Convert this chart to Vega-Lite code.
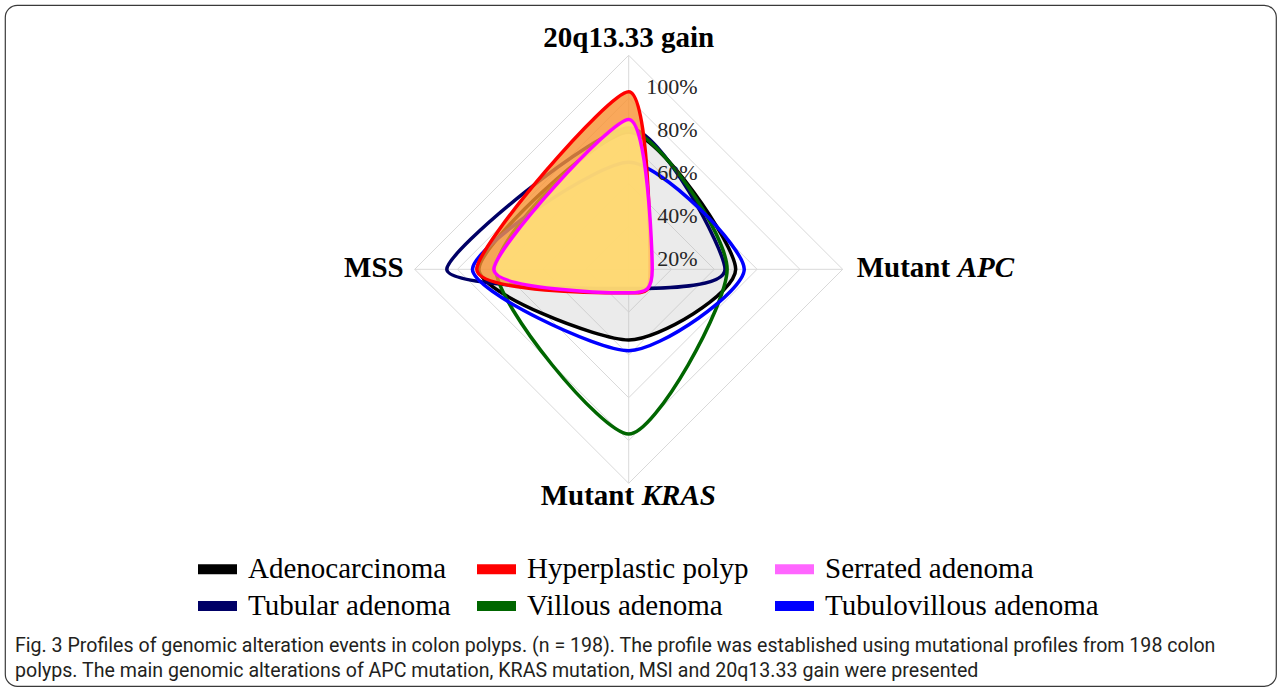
{
  "$schema": "https://vega.github.io/schema/vega-lite/v6.json",
  "width": 1281,
  "height": 689,
  "autosize": {"type": "fit", "contains": "padding"},
  "padding": {"left": 5, "right": 5, "top": 5, "bottom": 3},
  "background": "white",
  "config": {"view": {"stroke": "#3a3a3a", "strokeWidth": 1.2, "cornerRadius": 12}},
  "title": {
    "text": [
      "Fig. 3 Profiles of genomic alteration events in colon polyps. (n = 198). The profile was established using mutational profiles from 198 colon",
      "polyps. The main genomic alterations of APC mutation, KRAS mutation, MSI and 20q13.33 gain were presented"
    ],
    "orient": "bottom",
    "anchor": "start",
    "frame": "group",
    "offset": -49,
    "dx": 10,
    "font": "Roboto",
    "fontSize": 19.6,
    "fontWeight": "normal",
    "color": "#231F20",
    "lineHeight": 25
  },
  "datasets": {
    "series": [
      {"type": "Adenocarcinoma", "axis": "20q13.33 gain", "value": 64},
      {"type": "Adenocarcinoma", "axis": "Mutant APC", "value": 50},
      {"type": "Adenocarcinoma", "axis": "Mutant KRAS", "value": 33},
      {"type": "Adenocarcinoma", "axis": "MSS", "value": 70},
      {"type": "Hyperplastic polyp", "axis": "20q13.33 gain", "value": 83},
      {"type": "Hyperplastic polyp", "axis": "Mutant APC", "value": 10},
      {"type": "Hyperplastic polyp", "axis": "Mutant KRAS", "value": 11},
      {"type": "Hyperplastic polyp", "axis": "MSS", "value": 71},
      {"type": "Serrated adenoma", "axis": "20q13.33 gain", "value": 70},
      {"type": "Serrated adenoma", "axis": "Mutant APC", "value": 11},
      {"type": "Serrated adenoma", "axis": "Mutant KRAS", "value": 11},
      {"type": "Serrated adenoma", "axis": "MSS", "value": 63},
      {"type": "Tubular adenoma", "axis": "20q13.33 gain", "value": 66},
      {"type": "Tubular adenoma", "axis": "Mutant APC", "value": 45},
      {"type": "Tubular adenoma", "axis": "Mutant KRAS", "value": 9},
      {"type": "Tubular adenoma", "axis": "MSS", "value": 85},
      {"type": "Villous adenoma", "axis": "20q13.33 gain", "value": 65},
      {"type": "Villous adenoma", "axis": "Mutant APC", "value": 46},
      {"type": "Villous adenoma", "axis": "Mutant KRAS", "value": 77},
      {"type": "Villous adenoma", "axis": "MSS", "value": 62},
      {"type": "Tubulovillous adenoma", "axis": "20q13.33 gain", "value": 50},
      {"type": "Tubulovillous adenoma", "axis": "Mutant APC", "value": 54},
      {"type": "Tubulovillous adenoma", "axis": "Mutant KRAS", "value": 38},
      {"type": "Tubulovillous adenoma", "axis": "MSS", "value": 73}
    ],
    "axes": [
      {"axis": "20q13.33 gain", "k": 0},
      {"axis": "Mutant APC", "k": 1},
      {"axis": "Mutant KRAS", "k": 2},
      {"axis": "MSS", "k": 3}
    ],
    "grid": [
      {"level": 20, "k": 0}, {"level": 20, "k": 1}, {"level": 20, "k": 2}, {"level": 20, "k": 3},
      {"level": 40, "k": 0}, {"level": 40, "k": 1}, {"level": 40, "k": 2}, {"level": 40, "k": 3},
      {"level": 60, "k": 0}, {"level": 60, "k": 1}, {"level": 60, "k": 2}, {"level": 60, "k": 3},
      {"level": 80, "k": 0}, {"level": 80, "k": 1}, {"level": 80, "k": 2}, {"level": 80, "k": 3},
      {"level": 100, "k": 0}, {"level": 100, "k": 1}, {"level": 100, "k": 2}, {"level": 100, "k": 3}
    ],
    "ticks": [
      {"level": 20}, {"level": 40}, {"level": 60}, {"level": 80}, {"level": 100}
    ]
  },
  "encoding": {
    "x": {"field": "px", "type": "quantitative", "scale": {"domain": [-291.45, 302.48], "nice": false, "zero": false}, "axis": null},
    "y": {"field": "py", "type": "quantitative", "scale": {"domain": [-194.7, 123.5], "nice": false, "zero": false}, "axis": null}
  },
  "layer": [
    {
      "data": {"name": "grid"},
      "transform": [
        {"calculate": "datum.level * sin(datum.k * PI / 2)", "as": "px"},
        {"calculate": "datum.level * cos(datum.k * PI / 2)", "as": "py"}
      ],
      "mark": {"type": "line", "interpolate": "linear-closed", "stroke": "#D9D9D9", "strokeWidth": 1},
      "encoding": {
        "detail": {"field": "level", "type": "nominal"},
        "order": {"field": "k", "type": "quantitative"}
      }
    },
    {
      "data": {"name": "axes"},
      "transform": [
        {"calculate": "0", "as": "px"},
        {"calculate": "0", "as": "py"},
        {"calculate": "100 * sin(datum.k * PI / 2)", "as": "px2"},
        {"calculate": "100 * cos(datum.k * PI / 2)", "as": "py2"}
      ],
      "mark": {"type": "rule", "stroke": "#D9D9D9", "strokeWidth": 1},
      "encoding": {
        "x2": {"field": "px2"},
        "y2": {"field": "py2"}
      }
    },
    {
      "data": {"name": "series"},
      "transform": [
        {"filter": "datum.type === 'Adenocarcinoma'"},
        {"calculate": "indexof(['20q13.33 gain','Mutant APC','Mutant KRAS','MSS'], datum.axis)", "as": "k"},
        {"calculate": "datum.value * sin(datum.k * PI / 2)", "as": "px"},
        {"calculate": "datum.value * cos(datum.k * PI / 2)", "as": "py"}
      ],
      "mark": {"type": "line", "interpolate": "cardinal-closed", "tension": 0.3, "fill": "#BDBDBD", "fillOpacity": 0.3, "strokeOpacity": 0},
      "encoding": {
        "order": {"field": "k", "type": "quantitative"}
      }
    },
    {
      "data": {"name": "series"},
      "transform": [
        {"filter": "datum.type !== 'Hyperplastic polyp' && datum.type !== 'Serrated adenoma'"},
        {"calculate": "indexof(['20q13.33 gain','Mutant APC','Mutant KRAS','MSS'], datum.axis)", "as": "k"},
        {"calculate": "datum.value * sin(datum.k * PI / 2)", "as": "px"},
        {"calculate": "datum.value * cos(datum.k * PI / 2)", "as": "py"}
      ],
      "mark": {"type": "line", "interpolate": "cardinal-closed", "tension": 0.3, "strokeWidth": 3.5},
      "encoding": {
        "color": {
          "field": "type",
          "type": "nominal",
          "scale": {
            "domain": ["Adenocarcinoma", "Hyperplastic polyp", "Serrated adenoma", "Tubular adenoma", "Villous adenoma", "Tubulovillous adenoma"],
            "range": ["#000000", "#FF0000", "#FF00FF", "#000066", "#006600", "#0000FF"]
          },
          "legend": {
            "title": null,
            "orient": "none",
            "direction": "horizontal",
            "legendX": 193,
            "legendY": 544.5,
            "columns": 3,
            "columnPadding": 26,
            "rowPadding": 2,
            "padding": 0,
            "symbolSize": 1521,
            "symbolType": "M-1,-0.26H1V0.26H-1Z",
            "labelFont": "Liberation Serif",
            "labelFontSize": 29,
            "labelColor": "#000000",
            "labelOffset": 11,
            "labelLimit": 400,
            "encode": {
              "symbols": {
                "update": {
                  "fill": {"signal": "datum.value === 'Serrated adenoma' ? '#FF66FF' : scale('color', datum.value)"},
                  "stroke": {"value": "transparent"},
                  "strokeWidth": {"value": 0},
                  "opacity": {"value": 1}
                }
              }
            }
          }
        },
        "order": {"field": "k", "type": "quantitative"}
      }
    },
    {
      "data": {"name": "series"},
      "transform": [
        {"filter": "datum.type === 'Hyperplastic polyp'"},
        {"calculate": "indexof(['20q13.33 gain','Mutant APC','Mutant KRAS','MSS'], datum.axis)", "as": "k"},
        {"calculate": "datum.value * sin(datum.k * PI / 2)", "as": "px"},
        {"calculate": "datum.value * cos(datum.k * PI / 2)", "as": "py"}
      ],
      "mark": {"type": "line", "interpolate": "cardinal-closed", "tension": 0.3, "strokeWidth": 3.5, "fill": "#F79232", "fillOpacity": 0.8},
      "encoding": {
        "color": {"field": "type", "type": "nominal"},
        "order": {"field": "k", "type": "quantitative"}
      }
    },
    {
      "data": {"name": "series"},
      "transform": [
        {"filter": "datum.type === 'Serrated adenoma'"},
        {"calculate": "indexof(['20q13.33 gain','Mutant APC','Mutant KRAS','MSS'], datum.axis)", "as": "k"},
        {"calculate": "datum.value * sin(datum.k * PI / 2)", "as": "px"},
        {"calculate": "datum.value * cos(datum.k * PI / 2)", "as": "py"}
      ],
      "mark": {"type": "line", "interpolate": "cardinal-closed", "tension": 0.3, "strokeWidth": 3.5, "fill": "#FFE27A", "fillOpacity": 0.86},
      "encoding": {
        "color": {"field": "type", "type": "nominal"},
        "order": {"field": "k", "type": "quantitative"}
      }
    },
    {
      "data": {"name": "ticks"},
      "transform": [
        {"calculate": "0", "as": "px"},
        {"calculate": "datum.level", "as": "py"},
        {"calculate": "datum.level + '%'", "as": "label"}
      ],
      "mark": {"type": "text", "align": "right", "baseline": "middle", "dx": 69, "dy": 32, "font": "Liberation Serif", "fontSize": 22, "color": "#262626"},
      "encoding": {"text": {"field": "label"}}
    },
    {
      "data": {"name": "axes"},
      "transform": [
        {"filter": "datum.k === 0"},
        {"calculate": "100 * sin(datum.k * PI / 2)", "as": "px"},
        {"calculate": "100 * cos(datum.k * PI / 2)", "as": "py"}
      ],
      "mark": {"type": "text", "align": "center", "baseline": "alphabetic", "dy": -8, "font": "Liberation Serif", "fontSize": 29, "fontWeight": "bold", "color": "#000000"},
      "encoding": {"text": {"field": "axis"}}
    },
    {
      "data": {"name": "axes"},
      "transform": [
        {"filter": "datum.k === 3"},
        {"calculate": "100 * sin(datum.k * PI / 2)", "as": "px"},
        {"calculate": "100 * cos(datum.k * PI / 2)", "as": "py"}
      ],
      "mark": {"type": "text", "align": "right", "baseline": "alphabetic", "dx": -11, "dy": 8, "font": "Liberation Serif", "fontSize": 29, "fontWeight": "bold", "color": "#000000"},
      "encoding": {"text": {"field": "axis"}}
    },
    {
      "data": {"name": "axes"},
      "transform": [
        {"filter": "datum.k === 1"},
        {"calculate": "100 * sin(datum.k * PI / 2)", "as": "px"},
        {"calculate": "100 * cos(datum.k * PI / 2)", "as": "py"}
      ],
      "mark": {"type": "text", "align": "left", "baseline": "alphabetic", "dx": 14, "dy": 8, "font": "Liberation Serif", "fontSize": 29, "fontWeight": "bold", "color": "#000000"},
      "encoding": {"text": {"value": "Mutant"}}
    },
    {
      "data": {"name": "axes"},
      "transform": [
        {"filter": "datum.k === 1"},
        {"calculate": "100 * sin(datum.k * PI / 2)", "as": "px"},
        {"calculate": "100 * cos(datum.k * PI / 2)", "as": "py"}
      ],
      "mark": {"type": "text", "align": "left", "baseline": "alphabetic", "dx": 115, "dy": 8, "font": "Liberation Serif", "fontSize": 29, "fontWeight": "bold", "fontStyle": "italic", "color": "#000000"},
      "encoding": {"text": {"value": "APC"}}
    },
    {
      "data": {"name": "axes"},
      "transform": [
        {"filter": "datum.k === 2"},
        {"calculate": "100 * sin(datum.k * PI / 2)", "as": "px"},
        {"calculate": "100 * cos(datum.k * PI / 2)", "as": "py"}
      ],
      "mark": {"type": "text", "align": "left", "baseline": "alphabetic", "dx": -88, "dy": 22, "font": "Liberation Serif", "fontSize": 29, "fontWeight": "bold", "color": "#000000"},
      "encoding": {"text": {"value": "Mutant"}}
    },
    {
      "data": {"name": "axes"},
      "transform": [
        {"filter": "datum.k === 2"},
        {"calculate": "100 * sin(datum.k * PI / 2)", "as": "px"},
        {"calculate": "100 * cos(datum.k * PI / 2)", "as": "py"}
      ],
      "mark": {"type": "text", "align": "left", "baseline": "alphabetic", "dx": 13, "dy": 22, "font": "Liberation Serif", "fontSize": 29, "fontWeight": "bold", "fontStyle": "italic", "color": "#000000"},
      "encoding": {"text": {"value": "KRAS"}}
    }
  ]
}
